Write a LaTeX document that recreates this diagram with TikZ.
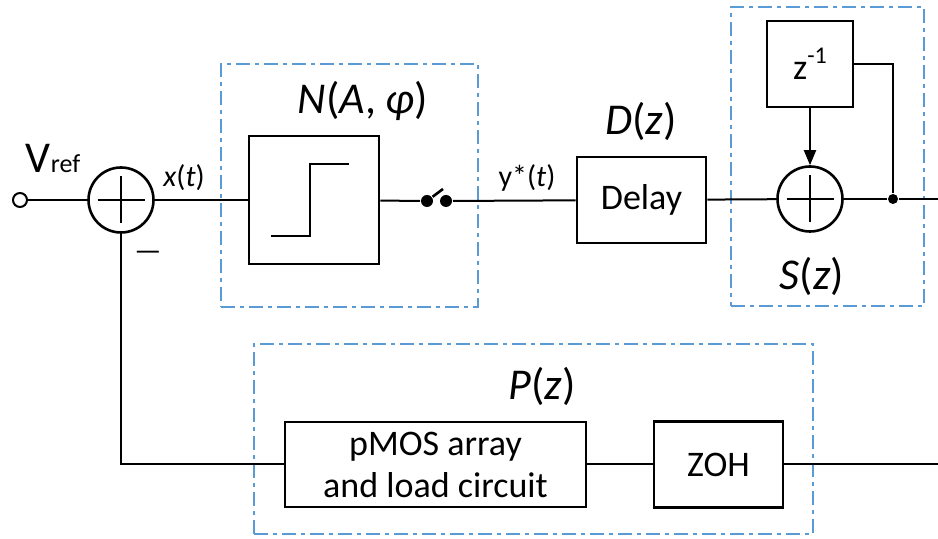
\documentclass[tikz,border=0pt]{standalone}
\usepackage{fontspec}
\setmainfont{Carlito}
\usepackage{xcolor}
\usetikzlibrary{arrows.meta,positioning,calc}
\definecolor{frameblue}{RGB}{91,155,213}

\begin{document}
\begin{tikzpicture}[
  x=0.5pt, y=-0.5pt,
  font=\fontsize{18}{21}\selectfont, >={Triangle[length=7.5pt,width=6pt]},
  line width=1pt,
  blk/.style={draw, line width=1.3pt, align=center, inner sep=0pt},
  sumnode/.style={draw, circle, line width=1.3pt, minimum size=32.5pt, inner sep=0pt,
    path picture={
      \draw ([xshift=4.5pt]path picture bounding box.west) -- ([xshift=-4.5pt]path picture bounding box.east);
      \draw ([yshift=-4.5pt]path picture bounding box.north) -- ([yshift=4.5pt]path picture bounding box.south);}},
  grp/.style={draw=frameblue, line width=1pt, dash pattern=on 7pt off 2.5pt on 2pt off 2.5pt},
  lbl/.style={font=\fontsize{22}{26}\selectfont},
  sig/.style={font=\fontsize{15}{18}\selectfont},
  dot/.style={circle, fill, inner sep=0pt, minimum size=#1},
]
\useasboundingbox (0,0) rectangle (938,539);

\node[grp, minimum width=128.5pt, minimum height=121.5pt] (nfrm) at (349.5,185.5) {};
\node[grp, minimum width=96.5pt, minimum height=149.5pt] (sfrm) at (827.5,156.5) {};
\node[grp, minimum width=279.5pt, minimum height=95pt] (pfrm) at (533.5,439) {};

\node[circle, draw, fill=white, minimum size=7pt, inner sep=0pt] (vin) at (20,200) {};
\node[sumnode] (sum1) at (121,200) {};
\node[blk, minimum width=65pt, minimum height=64pt] (nblk) at (314,200) {};
\node[dot=6pt] (sw1) at (427,201) {};
\node[dot=6pt] (sw2) at (446,201) {};
\coordinate (lever) at (443,189);
\node[blk, minimum width=64.5pt, minimum height=43pt] (delay) at (641.5,200) {Delay};
\node[sumnode] (sum2) at (810,199) {};
\node[blk, minimum size=43pt] (zinv) at (810,64) {z{\fontsize{12}{14}\selectfont\raisebox{8pt}{-1}}};
\node[dot=5pt] (jn) at (893,199) {};
\coordinate (out1) at (938,199);
\node[blk, minimum width=150.5pt, minimum height=42.5pt] (pmos) at (435.5,464.5) {pMOS array\\and load circuit};
\node[blk, minimum width=64.5pt, minimum height=43pt] (zoh) at (718.5,464.5) {ZOH};
\coordinate (out2) at (938,464.5);

\node[lbl] (vref) at (53,158) {V{\fontsize{13}{15}\selectfont ref}};
\node[sig] (xt) at (184,178) {\textit{x}(\textit{t})};
\node[sig] (minus) at (148,256) {—};
\node[lbl] (nlab) at (363,101) {\textit{N}(\textit{A}, \textit{φ})};
\node[sig] (yt) at (527,178) {y*(\textit{t})};
\node[lbl] (dlab) at (641,121) {\textit{D}(\textit{z})};
\node[lbl] (slab) at (812,276) {\textit{S}(\textit{z})};
\node[lbl] (plab) at (542,386) {\textit{P}(\textit{z})};

\draw ($(nblk)+(-43,36)$) -- ++(39,0) -- ++(0,-72) -- ++(39,0);

\draw (vin) -- (sum1);
\draw (sum1) -- (nblk);
\draw (nblk) -- (sw1);
\draw[line width=1.3pt] (sw1) -- (lever);
\draw (sw2) -- (delay);
\draw (delay) -- (sum2);
\draw (sum2) -- (jn) -- (out1);
\draw (zinv.east) -| (jn);
\draw[->] (zinv) -- (sum2);
\draw (sum1) |- (pmos);
\draw (pmos) -- (zoh);
\draw (zoh) -- (out2);
\end{tikzpicture}
\end{document}
